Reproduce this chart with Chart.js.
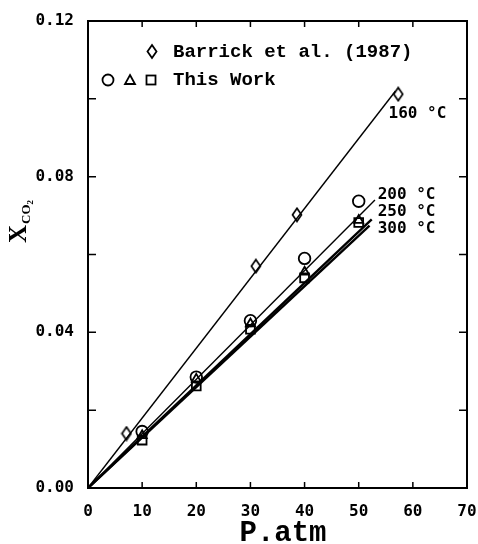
<!DOCTYPE html>
<html>
<head>
<meta charset="utf-8">
<script src="https://cdn.jsdelivr.net/npm/chart.js@4.4.1/dist/chart.umd.min.js"></script>
<style>
  body { margin: 0; background: #fff; }
  #wrap { width: 478px; height: 544px; }
</style>
</head>
<body>
<div id="wrap"><canvas id="chart" width="478" height="544"></canvas></div>
<script>
// measured points (This Work)
const pressure = [10, 20, 30, 40, 50];
const x200 = [0.0145, 0.0285, 0.0430, 0.0590, 0.0737];
const x250 = [0.0135, 0.0280, 0.0422, 0.0555, 0.0688];
const x300 = [0.0123, 0.0262, 0.0408, 0.0540, 0.0682];

// Barrick et al. (1987), 160 C
const barrickP = [7.1, 31.0, 38.6, 57.3];
const barrickX = [0.0140, 0.0570, 0.0702, 0.1012];

// fitted lines (start, end)
const fit160P = [0, 56.8], fit160X = [0, 0.1020];
const fit200P = [0, 53.0], fit200X = [0, 0.0740];
const fit250P = [0, 52.4], fit250X = [0, 0.0690];
const fit300P = [0, 52.0], fit300X = [0, 0.0674];

const xTicks = [0, 10, 20, 30, 40, 50, 60, 70];
const yTickLabels = ['0.00', '0.04', '0.08', '0.12'];

function pts(xs, ys) {
    return xs.map((x, i) => ({x: x, y: ys[i]}));
}

// tall hollow diamond marker
function diamondImg() {
    const c = document.createElement('canvas');
    c.width = 12; c.height = 16;
    const g = c.getContext('2d');
    g.beginPath();
    g.moveTo(6, 1.5); g.lineTo(10.5, 8); g.lineTo(6, 14.5); g.lineTo(1.5, 8); g.closePath();
    g.fillStyle = '#fff'; g.fill();
    g.lineWidth = 1.7; g.strokeStyle = '#000'; g.stroke();
    return c;
}
const diamond = diamondImg();

function fitLine(xs, ys, w) {
    return {data: pts(xs, ys), showLine: true, borderColor: '#000', borderWidth: w,
            pointRadius: 0, fill: false};
}
function marks(xs, ys, style, r) {
    return {data: pts(xs, ys), showLine: false, pointStyle: style, pointRadius: r,
            borderColor: '#000', backgroundColor: 'rgba(0,0,0,0)', pointBorderWidth: 1.8};
}

const tickFont = {family: 'DejaVu Sans Mono', weight: 'bold', size: 16};

const framePlugin = {
    id: 'frame',
    afterDraw: (chart) => {
        const ctx = chart.ctx;
        const a = chart.chartArea;
        const xs = chart.scales.x, ys = chart.scales.y;
        ctx.save();
        ctx.strokeStyle = '#000';
        ctx.lineWidth = 2;
        ctx.strokeRect(a.left, a.top, a.right - a.left, a.bottom - a.top);

        // inward ticks on all four sides
        ctx.lineWidth = 1.5;
        ctx.beginPath();
        xTicks.slice(1, -1).forEach(v => {
            const px = xs.getPixelForValue(v);
            ctx.moveTo(px, a.bottom); ctx.lineTo(px, a.bottom - 6);
            ctx.moveTo(px, a.top); ctx.lineTo(px, a.top + 6);
        });
        ys.ticks.slice(1, -1).forEach(t => {
            const py = ys.getPixelForValue(t.value);
            ctx.moveTo(a.left, py); ctx.lineTo(a.left + 8, py);
            ctx.moveTo(a.right, py); ctx.lineTo(a.right - 8, py);
        });
        ctx.stroke();

        ctx.fillStyle = '#000';
        // x title
        ctx.font = 'bold 29px "Liberation Mono"';
        ctx.textAlign = 'center';
        ctx.textBaseline = 'alphabetic';
        ctx.fillText('P.atm', 283, 541);

        // y title X_CO2, rotated
        ctx.save();
        ctx.translate(26, 243);
        ctx.rotate(-Math.PI / 2);
        ctx.textAlign = 'left';
        ctx.font = 'bold 25px "Liberation Serif"';
        ctx.fillText('X', 0, 0);
        const wX = ctx.measureText('X').width;
        ctx.font = 'bold 13px "Liberation Serif"';
        ctx.fillText('CO', wX + 1, 4);
        const wCO = ctx.measureText('CO').width;
        ctx.font = 'bold 9px "Liberation Serif"';
        ctx.fillText('2', wX + 1 + wCO, 7);
        ctx.restore();

        // legend
        ctx.lineWidth = 1.8;
        ctx.beginPath();
        ctx.moveTo(152, 45); ctx.lineTo(156.5, 51.5); ctx.lineTo(152, 58); ctx.lineTo(147.5, 51.5); ctx.closePath();
        ctx.stroke();
        ctx.beginPath();
        ctx.arc(108, 80, 5.5, 0, Math.PI * 2);
        ctx.stroke();
        ctx.beginPath();
        ctx.moveTo(130, 75); ctx.lineTo(135, 84); ctx.lineTo(125, 84); ctx.closePath();
        ctx.stroke();
        ctx.strokeRect(146.5, 75.5, 9, 9);
        ctx.font = 'bold 19px "Liberation Mono"';
        ctx.textAlign = 'left';
        ctx.textBaseline = 'middle';
        ctx.fillText('Barrick et al. (1987)', 173, 52);
        ctx.fillText('This Work', 173, 80);

        // temperature labels near line ends
        ctx.font = 'bold 16px "DejaVu Sans Mono"';
        const tl = [['160 °C', 55.5, 0.0961], ['200 °C', 53.5, 0.0753],
                    ['250 °C', 53.5, 0.0710], ['300 °C', 53.5, 0.0665]];
        tl.forEach(t => {
            ctx.fillText(t[0], xs.getPixelForValue(t[1]), ys.getPixelForValue(t[2]));
        });
        ctx.restore();
    }
};

new Chart(document.getElementById('chart'), {
    type: 'scatter',
    plugins: [framePlugin],
    data: {
        datasets: [
            fitLine(fit160P, fit160X, 1.4),
            fitLine(fit200P, fit200X, 1.4),
            fitLine(fit250P, fit250X, 2.4),
            fitLine(fit300P, fit300X, 2.4),
            marks(barrickP, barrickX, diamond, 6),
            marks(pressure, x200, 'circle', 5.8),
            marks(pressure, x250, 'triangle', 5.2),
            marks(pressure, x300, 'rect', 6.2)
        ]
    },
    options: {
        responsive: false,
        animation: false,
        layout: {padding: {top: 21, right: 11, left: 0, bottom: 0}},
        plugins: {
            legend: {display: false},
            tooltip: {enabled: false}
        },
        scales: {
            x: {
                type: 'linear', min: 0, max: 70,
                afterFit: (s) => { s.height = 56; s.paddingLeft = 0; s.paddingRight = 0; },
                afterBuildTicks: (s) => { s.ticks = xTicks.map(v => ({value: v})); },
                grid: {drawOnChartArea: false, drawTicks: false},
                border: {display: false},
                ticks: {color: '#000', font: tickFont, padding: 14, maxRotation: 0,
                        callback: (v) => String(v)}
            },
            y: {
                type: 'linear', min: 0, max: 0.12,
                afterFit: (s) => { s.width = 88; s.paddingTop = 0; s.paddingBottom = 0; },
                grid: {drawOnChartArea: false, drawTicks: false},
                border: {display: false},
                ticks: {color: '#000', font: tickFont, padding: 14, stepSize: 0.02,
                        callback: (v, i) => (i % 2 === 0 ? yTickLabels[i / 2] : '')}
            }
        }
    }
});
</script>
</body>
</html>
